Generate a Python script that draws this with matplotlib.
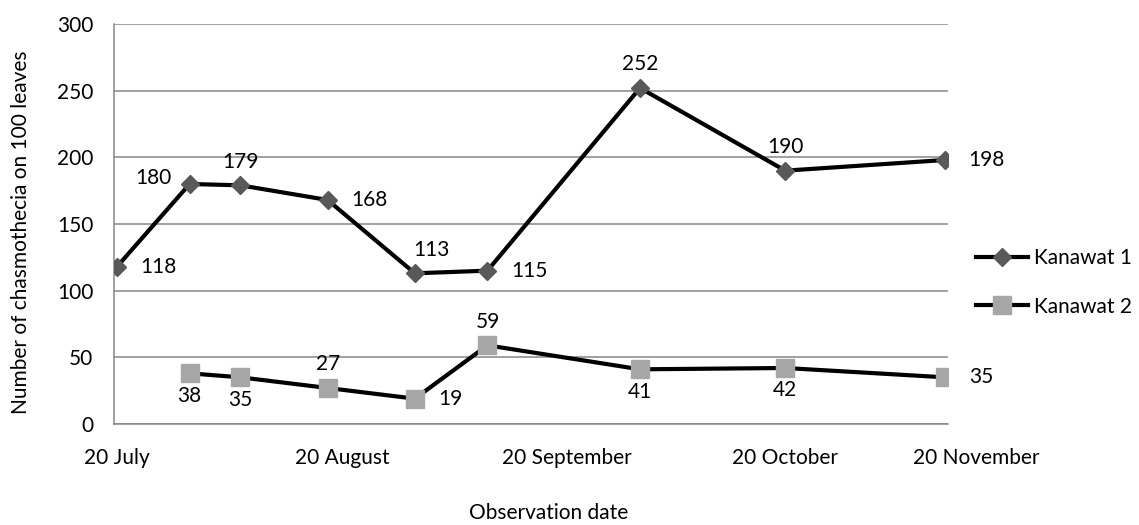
import numpy as np
import matplotlib
matplotlib.use('Agg')
import matplotlib.pyplot as plt
from matplotlib.transforms import blended_transform_factory

plt.rcParams['font.family'] = ['Lato', 'DejaVu Sans']

# days since 20 July
obs_days = [0, 10, 17, 29, 41, 51, 72, 92, 114]
kanawat1 = [118, 180, 179, 168, 113, 115, 252, 190, 198]
kanawat2 = [np.nan, 38, 35, 27, 19, 59, 41, 42, 35]
k1_pos = ['right', 'left', 'above', 'right', 'above', 'right', 'above', 'above', 'right']
k2_pos = [None, 'below', 'below', 'above', 'right', 'above', 'below', 'below', 'right']

tick_days = [0, 31, 62, 92]
tick_labels = ['20 July', '20 August', '20 September', '20 October']
last_label = '20 November'

GRID = '#868686'
FS = 15

offsets = {
    'right': ((17, 0), 'left', 'center'),
    'left': ((-13, 4), 'right', 'center'),
    'above': ((0, 17), 'center', 'center'),
    'below': ((0, -16), 'center', 'center'),
}


def label_points(ax, xs, ys, pos):
    for x, y, p in zip(xs, ys, pos):
        if p is None or np.isnan(y):
            continue
        off, ha, va = offsets[p]
        if p == 'above' and y == 113:
            off = (12, 17)
        ax.annotate('%d' % y, (x, y), xytext=off, textcoords='offset points',
                    ha=ha, va=va, fontsize=FS, color='black')


fig = plt.figure(figsize=(11.39, 5.25), dpi=100)
ax = fig.add_axes([0.1001, 0.1924, 0.7322, 0.7619])

ax.plot(obs_days, kanawat1, color='black', lw=3, marker='D', markersize=9.5,
        markerfacecolor='#595959', markeredgecolor='#595959', label='Kanawat 1',
        zorder=3)
ax.plot(obs_days, kanawat2, color='black', lw=3, marker='s', markersize=13.5,
        markerfacecolor='#A6A6A6', markeredgecolor='#A6A6A6', label='Kanawat 2',
        zorder=3)

label_points(ax, obs_days, kanawat1, k1_pos)
label_points(ax, obs_days, kanawat2, k2_pos)

ax.set_xlim(-0.41, 114.4)
ax.set_ylim(0, 300)
ax.set_yticks(range(0, 301, 50))
ax.yaxis.grid(True, color=GRID, lw=1.1)
ax.set_axisbelow(True)
for s in ['top', 'right']:
    ax.spines[s].set_visible(False)
for s in ['left', 'bottom']:
    ax.spines[s].set_color(GRID)
    ax.spines[s].set_linewidth(1.1)

ax.set_xticks(tick_days)
ax.set_xticklabels(tick_labels)
ax.tick_params(axis='both', length=0, labelsize=FS)
ax.tick_params(axis='x', pad=17)
ax.tick_params(axis='y', pad=15)

trans = blended_transform_factory(ax.transData, ax.transAxes)
ax.text(118.3, 0, last_label, transform=trans, ha='center', va='top',
        fontsize=FS, clip_on=False)
# align manual label with tick labels
fig.canvas.draw()
ty = ax.get_xticklabels()[0].get_window_extent().y1
inv = ax.transAxes.inverted()
ax.texts[-1].set_y(inv.transform((0, ty))[1])

ax.set_ylabel('Number of chasmothecia on 100 leaves', fontsize=FS)
ax.yaxis.set_label_coords(-0.100, 0.48)
fig.text(0.482, 0.023, 'Observation date', ha='center', va='center', fontsize=FS)

ax.legend(loc='center left', bbox_to_anchor=(1.011, 0.354), frameon=False,
          fontsize=FS, handlelength=2.5, handletextpad=0.3, labelspacing=1.37,
          markerscale=0.95)

fig.savefig('out.png', dpi=100)
